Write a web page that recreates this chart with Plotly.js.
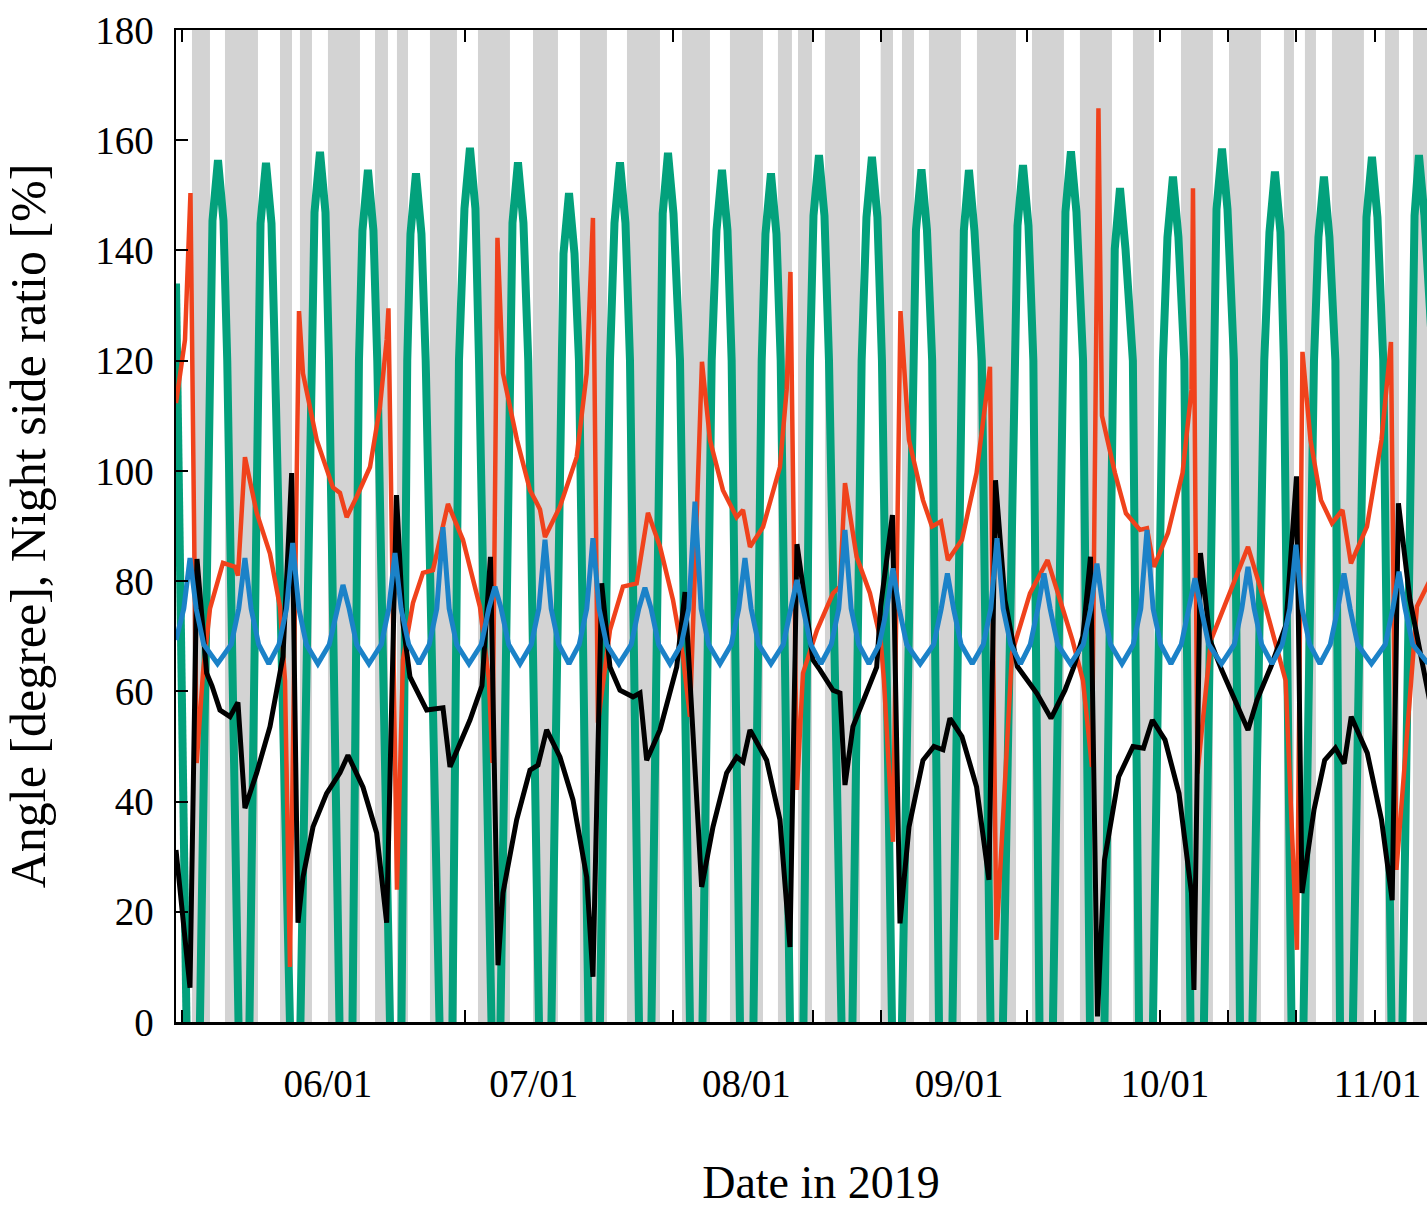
<!DOCTYPE html>
<html>
<head>
<meta charset="utf-8">
<script src="https://cdn.plot.ly/plotly-3.0.1.min.js"></script>
<style>
  html, body { margin: 0; padding: 0; overflow: hidden; background: #ffffff; }
  #chart { width: 1487px; height: 1226px; margin-left: -20px; }
</style>
</head>
<body>
<div id="chart"></div>
<script>
// x values are day-of-year in 2019 (06/01 = day 152)
const monthTickDays = [152, 182, 213, 244, 274, 305];
const monthTickLabels = ['06/01', '07/01', '08/01', '09/01', '10/01', '11/01'];
const xTickMarks = [130.79, 171.98, 202.30, 222.70, 232.62, 253.90, 273.28, 283.20, 293.11, 304.63];
const yTickValues = [0, 20, 40, 60, 80, 100, 120, 140, 160, 180];

// shaded periods (start / end day)
const bandStart = [132.18, 136.99, 145.01, 147.92, 152.00, 158.86, 162.06, 166.87, 173.87, 181.89, 188.74, 195.59, 203.61, 210.60, 217.60, 220.52, 224.45, 232.57, 235.68, 239.61, 246.61, 254.63, 261.62, 269.35, 276.35, 283.35, 291.36, 294.42, 298.36, 306.09, 310.17];
const bandEnd   = [134.80, 141.80, 146.76, 149.67, 156.67, 160.75, 163.67, 170.81, 178.53, 185.53, 192.67, 200.40, 207.69, 215.42, 219.64, 222.56, 229.56, 234.37, 237.43, 244.28, 252.30, 259.29, 266.29, 272.41, 281.01, 288.01, 292.82, 296.03, 303.02, 308.13, 313.20];

// green angle (values leaving the frame below 0 are broken into separate strokes)
const greenDay = [
  129.85, 131.38, null,
  133.34, 134.90, 135.17, 135.97, 136.77, 137.32, 138.96, null,
  140.56, 141.70, 142.17, 142.97, 143.77, 144.28, 146.46, null,
  147.99, 149.48, 150.04, 150.84, 151.64, 152.15, 153.68, null,
  155.58, 156.52, 157.03, 157.83, 158.63, 159.19, 161.04, null,
  162.72, 163.56, 164.03, 164.83, 165.63, 166.25, 168.26, null,
  170.15, 171.10, 171.90, 172.70, 173.50, 174.02, 175.84, null,
  177.15, 178.64, 178.90, 179.70, 180.50, 181.20, 182.76, null,
  184.58, 186.07, 186.34, 187.14, 187.94, 188.59, 189.98, null,
  191.65, 193.11, 193.77, 194.57, 195.37, 196.03, 197.34, null,
  199.16, 200.65, 200.80, 201.57, 202.37, 203.32, 204.77, null,
  206.60, 207.94, 208.64, 209.44, 210.24, 210.85, 212.06, null,
  214.03, 215.23, 215.78, 216.58, 217.38, 218.00, 219.35, null,
  221.32, 222.27, 222.78, 223.58, 224.38, 225.04, 226.86, null,
  228.46, 229.80, 230.50, 231.30, 232.10, 232.76, 234.22, null,
  235.68, 237.22, 237.72, 238.52, 239.32, 240.08, 241.07, null,
  243.04, 244.40, 244.70, 245.44, 246.24, 247.32, 248.58, null,
  250.40, 251.99, 252.52, 253.32, 254.12, 254.83, 255.72, null,
  257.69, 259.23, 259.51, 260.31, 261.11, 262.08, 263.08, null,
  265.20, 266.48, 266.70, 267.46, 268.26, 269.34, 270.23, null,
  272.27, 273.72, 274.38, 275.18, 275.98, 276.84, 277.73, null,
  279.70, 281.25, 281.53, 282.33, 283.13, 284.07, 284.95, null,
  286.77, 288.49, 289.25, 290.05, 290.85, 291.35, 292.46, null,
  294.21, 295.74, 296.39, 297.19, 297.99, 298.86, 299.53, null,
  301.42, 302.99, 303.39, 304.19, 304.99, 305.84, 307.03, null,
  308.64, 310.10, 310.40, 311.04, 311.84, 313.08, 314.69
];
const greenAngle = [
  134, 0, null,
  0, 120, 145.4, 156.4, 145.4, 120, 0, null,
  0, 120, 144.9, 155.9, 144.9, 120, 0, null,
  0, 120, 146.9, 157.9, 146.9, 120, 0, null,
  0, 120, 143.6, 154.6, 143.6, 120, 0, null,
  0, 120, 143.0, 154.0, 143.0, 120, 0, null,
  0, 120, 147.6, 158.6, 147.6, 120, 0, null,
  0, 120, 145.0, 156.0, 145.0, 120, 0, null,
  0, 120, 139.4, 150.4, 139.4, 120, 0, null,
  0, 120, 145.0, 156.0, 145.0, 120, 0, null,
  0, 120, 146.7, 157.7, 146.7, 120, 0, null,
  0, 120, 143.6, 154.6, 143.6, 120, 0, null,
  0, 120, 143.0, 154.0, 143.0, 120, 0, null,
  0, 120, 146.3, 157.3, 146.3, 120, 0, null,
  0, 120, 146.0, 157.0, 146.0, 120, 0, null,
  0, 120, 143.7, 154.7, 143.7, 120, 0, null,
  0, 120, 143.6, 154.6, 143.6, 120, 0, null,
  0, 120, 144.5, 155.5, 144.5, 120, 0, null,
  0, 120, 147.0, 158.0, 147.0, 120, 0, null,
  0, 120, 140.3, 151.3, 140.3, 120, 0, null,
  0, 120, 142.4, 153.4, 142.4, 120, 0, null,
  0, 120, 147.5, 158.5, 147.5, 120, 0, null,
  0, 120, 143.3, 154.3, 143.3, 120, 0, null,
  0, 120, 142.4, 153.4, 142.4, 120, 0, null,
  0, 120, 146.0, 157.0, 146.0, 120, 0, null,
  0, 120, 146.3, 157.3, 146.3, 120, 0
];

// red series [day, value]
const redPoints = [
  [129.85,112.3],[131.16,123.8],[131.96,150.4],[132.86,47],[133.78,63.3],[134.80,75],[136.70,83.3],[138.45,82.6],[138.88,81],[139.90,102.5],[141.61,92.4],[143.55,85],[145.01,75.3],[145.74,62],[146.46,10],[147.78,129],[148.36,117.7],[150.36,105.6],[152.73,97],[153.75,96],[154.73,91.6],[156.19,95.3],[158.13,100.7],[159.58,111.6],[160.56,123.8],[160.82,129.5],[162.06,24],[162.94,65.7],[164.39,76],[165.85,81.5],[167.31,82],[169.50,94],[171.68,87.5],[174.16,75.3],[175.47,62],[175.98,47],[176.71,142.3],[177.51,117.7],[179.56,105.6],[181.45,96.5],[182.43,94.2],[182.91,93],[183.64,88],[185.82,93.5],[188.26,102.5],[189.72,117.7],[190.63,145.9],[191.36,54.3],[193.11,71.1],[195.01,79],[197.00,79.6],[198.65,92.4],[200.40,86.3],[202.30,76.6],[203.75,66.3],[204.77,55.4],[206.52,119.8],[207.69,105.6],[209.58,96.5],[211.58,91.6],[212.50,92.9],[213.52,86.2],[215.42,89.8],[217.89,100.7],[218.87,114.7],[219.42,136.1],[220.37,42.1],[221.25,63.3],[223.29,71.1],[225.62,77.8],[226.64,79],[227.37,97.8],[229.07,84.4],[231.01,77.8],[232.57,69.3],[233.05,62],[234.37,32.7],[235.46,129],[236.70,105.6],[238.74,94.7],[240.05,89.9],[241.36,90.8],[242.38,83.8],[244.42,87.5],[246.55,99.6],[248.07,114.7],[248.51,118.9],[249.45,14.9],[251.71,66.9],[254.34,77.8],[256.90,83.8],[258.42,77.8],[260.53,69.3],[262.06,62],[263.37,46.3],[264.32,165.8],[264.83,110],[266.73,99.6],[268.33,92.3],[270.37,89.3],[271.39,89.6],[272.41,82.6],[274.45,88.7],[276.58,99.6],[277.88,114.7],[278.10,151.3],[278.75,45.1],[280.72,69.3],[283.35,77.8],[286.12,86.2],[288.01,78.4],[290.05,69.3],[291.60,62],[293.26,13.1],[294.06,121.6],[295.23,105.6],[296.76,94.7],[298.36,90.5],[299.89,92.9],[301.13,83.2],[303.46,89.9],[305.58,105.6],[306.96,123.4],[307.76,27.6],[310.75,75.4],[312.65,80.2]
];

// black series [day, value]
const blackPoints = [
  [129.85,31.2],[131.89,6.2],[132.91,84],[134.32,63.3],[135.09,61],[136.26,56.6],[137.72,55.4],[138.88,58],[139.90,38.8],[141.61,45.2],[143.55,53.6],[145.01,63.9],[145.44,66.3],[146.71,99.6],[147.63,18],[148.36,26.3],[149.82,35.4],[151.81,41.5],[153.75,45.2],[154.92,48.4],[157.11,42.6],[159.10,34.3],[160.56,18],[161.99,95.6],[162.94,72.4],[163.96,62.6],[166.39,56.6],[168.77,57],[169.79,46.3],[172.70,54.8],[174.45,61],[175.69,84.4],[176.79,10.3],[177.51,23.4],[179.51,36.7],[181.45,45.7],[182.62,46.6],[183.88,53],[185.82,48.1],[187.72,40.3],[189.72,26.3],[190.63,8.2],[191.90,79.6],[193.11,64.4],[194.57,60.2],[196.46,59],[197.49,59.7],[198.46,47.5],[200.40,53],[202.84,64.4],[204.05,78],[206.48,24.5],[208.13,35.4],[210.12,45.2],[211.58,48.1],[212.50,47.2],[213.52,53],[215.95,47.5],[217.89,36.7],[219.35,13.6],[220.37,86.7],[221.79,74.2],[222.70,65.7],[223.72,63.9],[225.62,60.2],[226.64,59.7],[227.37,43],[228.53,53.6],[230.53,59.7],[231.99,64.4],[232.57,75.4],[234.29,92],[235.39,17.9],[236.70,35.4],[238.74,47.5],[240.34,50],[241.65,49.4],[242.67,55.1],[244.42,51.8],[246.55,42.7],[248.36,25.8],[249.31,98.3],[250.69,76.6],[252.50,64.5],[255.36,59.6],[257.40,55.1],[259.44,60.2],[260.75,64.5],[262.06,70],[263.16,84.4],[264.18,1],[265.20,29.4],[267.27,44.5],[269.35,50],[270.88,49.7],[272.18,54.8],[274.02,51.2],[276.06,41.5],[277.88,23.4],[278.24,5.8],[279.19,85.1],[280.58,69.3],[282.28,63.9],[283.78,59.6],[285.39,55.4],[286.12,53],[287.43,58.4],[289.47,64.5],[291.65,72],[293.19,99],[293.99,23.4],[295.74,38.5],[297.30,47.5],[298.86,49.7],[300.14,46.9],[301.17,55.4],[303.51,48.8],[305.58,36.7],[307.14,22.1],[308.05,94.1],[309.73,76.6],[312.65,58]
];

// blue series [day, value]
const bluePoints = [
  [129.85,69.3],[130.99,75],[131.89,84.2],[132.79,75],[133.89,68.5],[135.90,65],[137.90,68.5],[139.00,75],[139.90,84.2],[140.80,75],[141.90,68.5],[143.38,65],[144.86,68.5],[145.96,75],[146.86,86.9],[147.76,75],[148.86,68.5],[150.53,65],[152.19,68.5],[153.29,75],[154.19,79.3],[155.09,75],[156.19,68.5],[157.98,65],[159.77,68.5],[160.87,75],[161.77,85.1],[162.67,75],[163.77,68.5],[165.27,65],[166.77,68.5],[167.87,75],[168.77,89.8],[169.67,75],[170.77,68.5],[172.56,65],[174.35,68.5],[175.45,75],[176.35,79.0],[177.25,75],[178.35,68.5],[180.00,65],[181.64,68.5],[182.74,75],[183.64,87.5],[184.54,75],[185.64,68.5],[187.14,65],[188.63,68.5],[189.73,75],[190.63,87.8],[191.53,75],[192.63,68.5],[194.42,65],[196.21,68.5],[197.31,75],[198.21,78.8],[199.11,75],[200.21,68.5],[201.86,65],[203.50,68.5],[204.60,75],[205.50,94.4],[206.40,75],[207.50,68.5],[209.15,65],[210.79,68.5],[211.89,75],[212.79,84.2],[213.69,75],[214.79,68.5],[216.58,65],[218.37,68.5],[219.47,75],[220.37,80.2],[221.27,75],[222.37,68.5],[223.87,65],[225.37,68.5],[226.47,75],[227.37,89.3],[228.27,75],[229.37,68.5],[230.87,65],[232.37,68.5],[233.47,75],[234.37,82.3],[235.27,75],[236.37,68.5],[238.34,65],[240.30,68.5],[241.40,75],[242.30,81.4],[243.20,75],[244.30,68.5],[245.92,65],[247.53,68.5],[248.63,75],[249.53,87.8],[250.43,75],[251.53,68.5],[252.96,65],[254.38,68.5],[255.48,75],[256.38,81.4],[257.28,75],[258.38,68.5],[260.24,65],[262.10,68.5],[263.20,75],[264.10,83.2],[265.00,75],[266.10,68.5],[267.75,65],[269.39,68.5],[270.49,75],[271.39,89.3],[272.29,75],[273.39,68.5],[274.89,65],[276.39,68.5],[277.49,75],[278.39,80.5],[279.29,75],[280.39,68.5],[282.26,65],[284.12,68.5],[285.22,75],[286.12,82.6],[287.02,75],[288.12,68.5],[289.62,65],[291.11,68.5],[292.21,75],[293.11,86.6],[294.01,75],[295.11,68.5],[296.61,65],[298.11,68.5],[299.21,75],[300.11,81.4],[301.01,75],[302.11,68.5],[304.12,65],[306.13,68.5],[307.23,75],[308.13,81.7],[309.03,75],[310.13,68.5],[312.20,65.3],[314.50,65]
];

const FONT = 'Liberation Serif, Times New Roman, serif';

const xs = pts => pts.map(p => p[0]);
const ys = pts => pts.map(p => p[1]);

const traces = [
  { x: greenDay, y: greenAngle, type: 'scatter', mode: 'lines', connectgaps: false,
    line: { color: '#03a17c', width: 8, shape: 'linear' }, hoverinfo: 'skip', showlegend: false },
  { x: xs(redPoints), y: ys(redPoints), type: 'scatter', mode: 'lines',
    line: { color: '#f0421c', width: 4.5 }, showlegend: false },
  { x: xs(blackPoints), y: ys(blackPoints), type: 'scatter', mode: 'lines',
    line: { color: '#000000', width: 5 }, showlegend: false },
  { x: xs(bluePoints), y: ys(bluePoints), type: 'scatter', mode: 'lines',
    line: { color: '#1b82c8', width: 5 }, showlegend: false }
];

const shapes = bandStart.map((s, i) => ({
  type: 'rect', xref: 'x', yref: 'paper', x0: s, x1: bandEnd[i], y0: 0, y1: 1,
  fillcolor: '#d3d3d3', line: { width: 0 }, layer: 'below'
}));

const layout = {
  width: 1487, height: 1226,
  margin: { l: 196, r: 1, t: 30, b: 204 },
  paper_bgcolor: '#ffffff', plot_bgcolor: '#ffffff',
  showlegend: false,
  font: { family: FONT, color: '#000000' },
  shapes: shapes,
  xaxis: {
    range: [129.85, 317.9],
    tickmode: 'array', tickvals: monthTickDays, ticktext: monthTickLabels,
    ticks: '', showgrid: false, zeroline: false,
    showline: true, mirror: 'ticks', linecolor: '#000000', linewidth: 2.5,
    tickfont: { family: FONT, size: 39, color: '#000000' },
    ticklabelstandoff: 26,
    minor: { tickmode: 'array', tickvals: xTickMarks, ticks: 'inside', ticklen: 12,
             tickwidth: 2, tickcolor: '#000000', showgrid: false },
    title: { text: 'Date in 2019', font: { family: FONT, size: 46, color: '#000000' }, standoff: 62 },
    automargin: false
  },
  yaxis: {
    range: [0, 180],
    tickmode: 'array', tickvals: yTickValues,
    ticks: 'inside', ticklen: 12, tickwidth: 2, tickcolor: '#000000',
    showgrid: false, zeroline: false,
    showline: true, mirror: 'ticks', linecolor: '#000000', linewidth: 2.5,
    tickfont: { family: FONT, size: 39, color: '#000000' },
    ticklabelstandoff: 12,
    title: { text: 'Angle [degree], Night side ratio [%]', font: { family: FONT, size: 50, color: '#000000' }, standoff: 34 },
    automargin: false
  }
};

Plotly.newPlot('chart', traces, layout, { staticPlot: true, displayModeBar: false });
</script>
</body>
</html>
